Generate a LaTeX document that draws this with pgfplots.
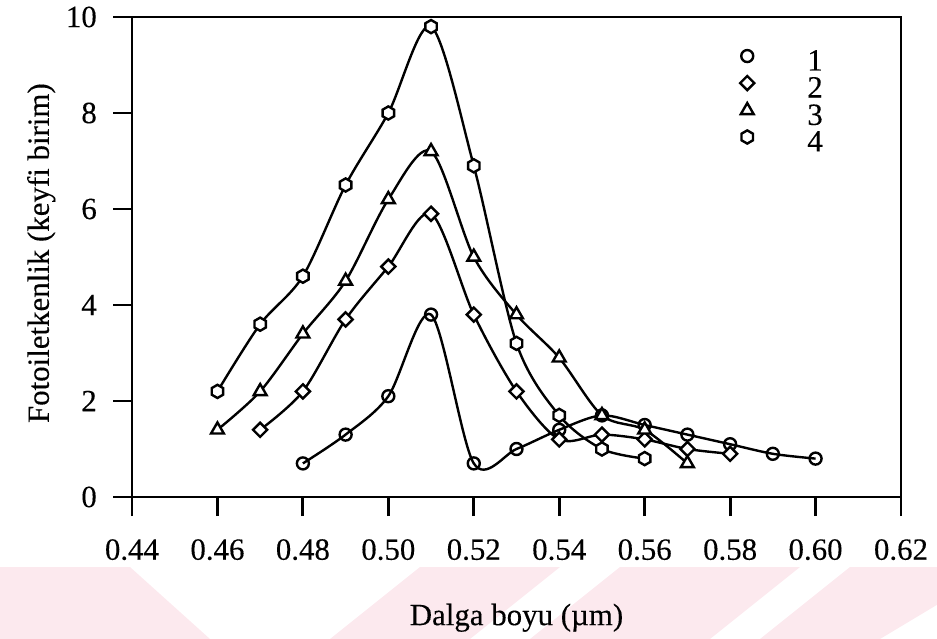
\documentclass[border=0pt]{standalone}
\usepackage{fontspec}
\setmainfont{Liberation Serif}[FakeBold=0.25]
\usepackage{pgfplots}
\pgfplotsset{compat=1.18}

\definecolor{wmpink}{RGB}{252,233,238}

% open hexagon mark, pointed at top and bottom
\pgfdeclareplotmark{hexagon*}{%
  \pgfpathmoveto{\pgfpointpolar{90}{1.1\pgfplotmarksize}}%
  \pgfpathlineto{\pgfpointpolar{150}{1.1\pgfplotmarksize}}%
  \pgfpathlineto{\pgfpointpolar{210}{1.1\pgfplotmarksize}}%
  \pgfpathlineto{\pgfpointpolar{270}{1.1\pgfplotmarksize}}%
  \pgfpathlineto{\pgfpointpolar{330}{1.1\pgfplotmarksize}}%
  \pgfpathlineto{\pgfpointpolar{30}{1.1\pgfplotmarksize}}%
  \pgfpathclose
  \pgfusepathqfillstroke
}

\newcommand{\bigfont}{\fontsize{31}{31}\selectfont}

\begin{document}
\begin{tikzpicture}
\path[use as bounding box] (-132bp,-142bp) rectangle (805bp,497bp);
% light watermark stripes along the bottom of the page
\fill[wmpink] (-132bp,-70bp) -- (-2bp,-70bp) -- (78bp,-142bp) -- (-132bp,-142bp) -- cycle;
\fill[wmpink] (288bp,-70bp) -- (428bp,-70bp) -- (338bp,-142bp) -- (198bp,-142bp) -- cycle;
\fill[wmpink] (488bp,-70bp) -- (668bp,-70bp) -- (578bp,-142bp) -- (398bp,-142bp) -- cycle;
\fill[wmpink] (718bp,-70bp) -- (868bp,-70bp) -- (748bp,-142bp) -- (628bp,-142bp) -- cycle;
\begin{axis}[
  width=769bp, height=480bp, scale only axis,
  xmin=0.44, xmax=0.62, ymin=0, ymax=10,
  xtick={0.44,0.46,0.48,0.50,0.52,0.54,0.56,0.58,0.60,0.62},
  xticklabels={0.44,0.46,0.48,0.50,0.52,0.54,0.56,0.58,0.60,0.62},
  ytick={0,2,4,6,8,10},
  yticklabels={0,2,4,6,8,10},
  tick align=outside,
  xtick pos=left, ytick pos=left,
  major tick length=19bp,
  axis line style={line width=2.8bp},
  every tick/.style={black, line width=2.8bp},
  tick label style={font=\bigfont, inner sep=0pt},
  xticklabel style={anchor=north, yshift=-23bp},
  yticklabel style={anchor=east, xshift=-16bp},
  xlabel={Dalga boyu (\textmu m)},
  ylabel={Fotoiletkenlik (keyfi birim)},
  label style={font=\bigfont},
  xlabel style={at={(axis description cs:0.5,-0.267)}, anchor=base, inner sep=0pt},
  ylabel style={at={(axis description cs:-0.118,0.508)}, anchor=center, inner sep=0pt},
  every axis plot/.append style={black, line width=2.4bp, smooth},
  legend image code/.code={\draw[#1] plot[only marks] coordinates {(0bp,5bp)};},
  legend style={at={(axis description cs:0.7906,0.9316)}, anchor=north west,
    draw=none, fill=none, inner sep=0pt, row sep=4bp, column sep=53bp,
    nodes={inner sep=0pt}, font=\bigfont},
]
% 1
\addplot[mark=o, mark size=6bp, mark options={solid, fill=white, line width=2.4bp}]
  coordinates {(0.48,0.7)(0.49,1.3)(0.50,2.1)(0.51,3.8)(0.52,0.7)(0.53,1.0)(0.54,1.4)
               (0.55,1.7)(0.56,1.5)(0.57,1.3)(0.58,1.1)(0.59,0.9)(0.60,0.8)};
\addlegendentry{1}
% 2
\addplot[mark=square*, mark size=5bp, mark options={solid, fill=white, rotate=45, line width=2.4bp}]
  coordinates {(0.47,1.4)(0.48,2.2)(0.49,3.7)(0.50,4.8)(0.51,5.9)(0.52,3.8)(0.53,2.2)
               (0.54,1.2)(0.55,1.3)(0.56,1.2)(0.57,1.0)(0.58,0.9)};
\addlegendentry{2}
% 3
\addplot[mark=triangle*, mark size=7.4bp, mark options={solid, fill=white, line width=2.4bp}]
  coordinates {(0.46,1.4)(0.47,2.2)(0.48,3.4)(0.49,4.5)(0.50,6.2)(0.51,7.2)(0.52,5.0)
               (0.53,3.8)(0.54,2.9)(0.55,1.7)(0.56,1.4)(0.57,0.7)};
\addlegendentry{3}
% 4
\addplot[mark=hexagon*, mark size=6bp, mark options={solid, fill=white, line width=2.4bp}]
  coordinates {(0.46,2.2)(0.47,3.6)(0.48,4.6)(0.49,6.5)(0.50,8.0)(0.51,9.8)(0.52,6.9)
               (0.53,3.2)(0.54,1.7)(0.55,1.0)(0.56,0.8)};
\addlegendentry{4}
\end{axis}
\end{tikzpicture}
\end{document}
